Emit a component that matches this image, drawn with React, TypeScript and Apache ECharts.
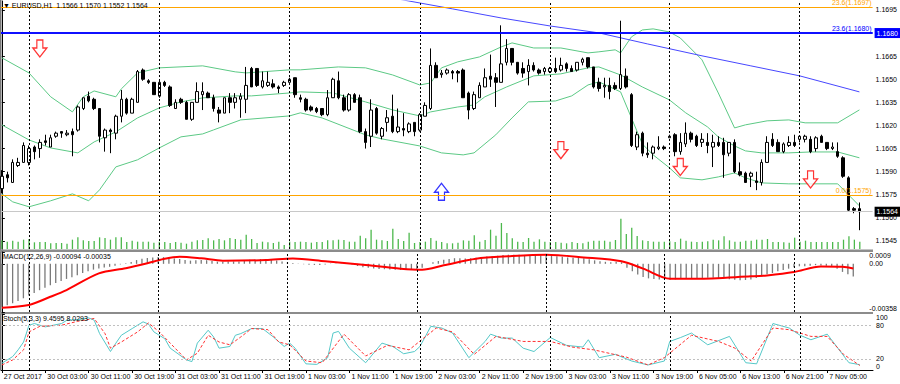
import React, { useEffect, useRef } from "react";
import * as echarts from "echarts";

const FONT = '"Liberation Sans", Arial, sans-serif';

// x = H1 candle index (0 = 27 Oct 2017 17:00)
const tickIndex = [0, 8, 16, 24, 32, 40, 48, 56, 64, 72, 80, 88, 96, 104, 112, 120, 128, 136, 144, 152];
const tickLabels = ["27 Oct 2017", "30 Oct 03:00", "30 Oct 11:00", "30 Oct 19:00", "31 Oct 03:00", "31 Oct 11:00", "31 Oct 19:00", "1 Nov 03:00", "1 Nov 11:00", "1 Nov 19:00", "2 Nov 03:00", "2 Nov 11:00", "2 Nov 19:00", "3 Nov 03:00", "3 Nov 11:00", "3 Nov 19:00", "6 Nov 05:00", "6 Nov 13:00", "6 Nov 21:00", "7 Nov 05:00"];
const daySeparators = [5, 29, 53, 77, 101, 123, 147];
const priceTicks = [1.1545, 1.156, 1.1575, 1.159, 1.1605, 1.162, 1.1635, 1.165, 1.1665, 1.168, 1.1695];
const priceLabels = [1.1545, 1.156, 1.1575, 1.159, 1.1605, 1.162, 1.1635, 1.165, 1.1665, 1.1695];

const opens = [
  1.1579, 1.1588, 1.1583, 1.1594, 1.1596, 1.1596, 1.1606, 1.1605, 1.1610, 1.1606,
  1.1613, 1.1616, 1.1614, 1.1616, 1.1617, 1.1631, 1.1639, 1.1637, 1.1631, 1.1612,
  1.1617, 1.1615, 1.1626, 1.1637, 1.1628, 1.1635, 1.1656, 1.1649, 1.1648, 1.1639,
  1.1648, 1.1645, 1.1631, 1.1637, 1.1635, 1.1624, 1.1635, 1.1640, 1.1641, 1.1638,
  1.1630, 1.1628, 1.1638, 1.1635, 1.1637, 1.1637, 1.1657, 1.1657, 1.1645, 1.1646,
  1.1647, 1.1645, 1.1646, 1.1648, 1.1651, 1.1638, 1.1637, 1.1632, 1.1631, 1.1631,
  1.1627, 1.1638, 1.1649, 1.1638, 1.1630, 1.1640, 1.1638, 1.1616, 1.1613, 1.1631,
  1.1613, 1.1622, 1.1626, 1.1616, 1.1618, 1.1616, 1.1622, 1.1617, 1.1626, 1.1631,
  1.1659, 1.1653, 1.1654, 1.1655, 1.1655, 1.1656, 1.1641, 1.1631, 1.1638, 1.1645,
  1.1652, 1.1651, 1.1648, 1.1661, 1.1670, 1.1661, 1.1657, 1.1655, 1.1659, 1.1656,
  1.1655, 1.1655, 1.1657, 1.1656, 1.1660, 1.1657, 1.1656, 1.1661, 1.1664, 1.1658,
  1.1648, 1.1645, 1.1646, 1.1646, 1.1644, 1.1652, 1.1640, 1.1606, 1.1615, 1.1602,
  1.1602, 1.1605, 1.1606, 1.1612, 1.1614, 1.1603, 1.1608, 1.1615, 1.1613, 1.1609,
  1.1609, 1.1606, 1.1609, 1.1609, 1.1602, 1.1609, 1.1590, 1.1589, 1.1587, 1.1584,
  1.1583, 1.1596, 1.1611, 1.1609, 1.1603, 1.1607, 1.1609, 1.1611, 1.1611, 1.1611,
  1.1605, 1.1613, 1.1609, 1.1605, 1.1603, 1.1599, 1.1586, 1.1566, 1.1566,
];
const closes = [
  1.1587, 1.1586, 1.1596, 1.1596, 1.1607, 1.1605, 1.1603, 1.1609, 1.1609, 1.1612,
  1.1615, 1.1615, 1.1615, 1.1614, 1.1632, 1.1638, 1.1636, 1.1631, 1.1613, 1.1617,
  1.1616, 1.1626, 1.1637, 1.1628, 1.1637, 1.1655, 1.1650, 1.1648, 1.1640, 1.1648,
  1.1646, 1.1633, 1.1635, 1.1635, 1.1624, 1.1635, 1.1642, 1.1642, 1.1638, 1.1631,
  1.1628, 1.1638, 1.1635, 1.1638, 1.1639, 1.1646, 1.1645, 1.1646, 1.1649, 1.1648,
  1.1645, 1.1644, 1.1648, 1.1650, 1.1640, 1.1637, 1.1630, 1.1630, 1.1629, 1.1627,
  1.1638, 1.1650, 1.1638, 1.1630, 1.1640, 1.1635, 1.1616, 1.1609, 1.1630, 1.1615,
  1.1618, 1.1625, 1.1616, 1.1619, 1.1617, 1.1621, 1.1616, 1.1627, 1.1633, 1.1659,
  1.1651, 1.1654, 1.1656, 1.1654, 1.1654, 1.1638, 1.1630, 1.1640, 1.1646, 1.1651,
  1.1650, 1.1648, 1.1660, 1.1670, 1.1661, 1.1654, 1.1654, 1.1659, 1.1656, 1.1654,
  1.1657, 1.1657, 1.1655, 1.1659, 1.1657, 1.1655, 1.1661, 1.1663, 1.1658, 1.1645,
  1.1644, 1.1646, 1.1642, 1.1644, 1.1653, 1.1645, 1.1607, 1.1614, 1.1602, 1.1601,
  1.1606, 1.1606, 1.1605, 1.1613, 1.1603, 1.1609, 1.1615, 1.1611, 1.1607, 1.1611,
  1.1607, 1.1609, 1.1607, 1.1601, 1.1609, 1.1590, 1.1588, 1.1583, 1.1589, 1.1583,
  1.1596, 1.1609, 1.1607, 1.1603, 1.1608, 1.1609, 1.1607, 1.1613, 1.1613, 1.1603,
  1.1612, 1.1609, 1.1605, 1.1606, 1.1600, 1.1587, 1.1565, 1.1565, 1.1564,
];
const lows = [
  1.1576, 1.1583, 1.1583, 1.1593, 1.1596, 1.1594, 1.1598, 1.1599, 1.1607, 1.1606,
  1.1612, 1.1612, 1.1613, 1.1600, 1.1616, 1.1630, 1.1635, 1.1630, 1.1609, 1.1603,
  1.1602, 1.1611, 1.1622, 1.1627, 1.1628, 1.1635, 1.1649, 1.1647, 1.1640, 1.1638,
  1.1645, 1.1632, 1.1631, 1.1634, 1.1624, 1.1623, 1.1635, 1.1630, 1.1638, 1.1629,
  1.1622, 1.1628, 1.1628, 1.1631, 1.1625, 1.1628, 1.1645, 1.1645, 1.1644, 1.1645,
  1.1644, 1.1641, 1.1645, 1.1648, 1.1638, 1.1635, 1.1629, 1.1629, 1.1628, 1.1626,
  1.1626, 1.1638, 1.1637, 1.1629, 1.1629, 1.1635, 1.1615, 1.1605, 1.1606, 1.1614,
  1.1611, 1.1616, 1.1615, 1.1615, 1.1613, 1.1615, 1.1613, 1.1616, 1.1626, 1.1630,
  1.1651, 1.1651, 1.1653, 1.1650, 1.1648, 1.1638, 1.1624, 1.1630, 1.1638, 1.1645,
  1.1645, 1.1632, 1.1648, 1.1659, 1.1659, 1.1653, 1.1651, 1.1646, 1.1655, 1.1653,
  1.1653, 1.1654, 1.1654, 1.1655, 1.1655, 1.1655, 1.1655, 1.1659, 1.1657, 1.1644,
  1.1642, 1.1638, 1.1637, 1.1643, 1.1643, 1.1644, 1.1606, 1.1604, 1.1600, 1.1599,
  1.1598, 1.1604, 1.1604, 1.1612, 1.1600, 1.1601, 1.1606, 1.1609, 1.1606, 1.1606,
  1.1602, 1.1593, 1.1606, 1.1586, 1.1600, 1.1589, 1.1587, 1.1583, 1.1580, 1.1578,
  1.1581, 1.1596, 1.1606, 1.1603, 1.1602, 1.1606, 1.1606, 1.1609, 1.1609, 1.1602,
  1.1603, 1.1609, 1.1604, 1.1604, 1.1599, 1.1586, 1.1564, 1.1563, 1.1552,
];
const highs = [
  1.1591, 1.1590, 1.1598, 1.1599, 1.1609, 1.1607, 1.1607, 1.1611, 1.1614, 1.1614,
  1.1616, 1.1616, 1.1617, 1.1618, 1.1633, 1.1638, 1.1642, 1.1638, 1.1631, 1.1618,
  1.1618, 1.1627, 1.1643, 1.1638, 1.1638, 1.1656, 1.1657, 1.1650, 1.1648, 1.1650,
  1.1649, 1.1646, 1.1637, 1.1638, 1.1636, 1.1635, 1.1648, 1.1648, 1.1642, 1.1640,
  1.1632, 1.1638, 1.1641, 1.1641, 1.1641, 1.1658, 1.1658, 1.1657, 1.1655, 1.1655,
  1.1650, 1.1646, 1.1649, 1.1651, 1.1651, 1.1640, 1.1638, 1.1633, 1.1632, 1.1631,
  1.1643, 1.1651, 1.1655, 1.1640, 1.1641, 1.1641, 1.1640, 1.1618, 1.1637, 1.1632,
  1.1619, 1.1630, 1.1640, 1.1631, 1.1628, 1.1622, 1.1622, 1.1628, 1.1635, 1.1670,
  1.1661, 1.1656, 1.1657, 1.1656, 1.1656, 1.1657, 1.1642, 1.1642, 1.1648, 1.1657,
  1.1666, 1.1654, 1.1685, 1.1676, 1.1670, 1.1661, 1.1661, 1.1663, 1.1661, 1.1657,
  1.1658, 1.1658, 1.1664, 1.1664, 1.1661, 1.1659, 1.1661, 1.1664, 1.1664, 1.1658,
  1.1651, 1.1651, 1.1651, 1.1648, 1.1688, 1.1657, 1.1641, 1.1616, 1.1616, 1.1609,
  1.1607, 1.1613, 1.1607, 1.1614, 1.1615, 1.1615, 1.1622, 1.1616, 1.1614, 1.1615,
  1.1615, 1.1614, 1.1613, 1.1612, 1.1609, 1.1611, 1.1596, 1.1590, 1.1590, 1.1590,
  1.1598, 1.1613, 1.1615, 1.1611, 1.1609, 1.1613, 1.1614, 1.1613, 1.1614, 1.1613,
  1.1613, 1.1614, 1.1609, 1.1609, 1.1609, 1.1600, 1.1587, 1.1567, 1.1570,
];
const volumes = [
  1040, 880, 1000, 880, 1120, 1200, 800, 840, 840, 680,
  720, 720, 640, 1120, 1400, 1040, 960, 960, 1400, 1320,
  1120, 1400, 1400, 840, 1000, 880, 880, 880, 760, 880,
  840, 720, 840, 760, 640, 880, 1040, 1080, 1280, 1040,
  1200, 1040, 1320, 1200, 1120, 1720, 1200, 720, 880, 800,
  720, 880, 480, 880, 840, 880, 840, 760, 840, 840,
  1040, 1040, 1120, 1080, 880, 880, 1600, 1280, 2320, 1120,
  1040, 960, 2440, 1200, 960, 1960, 720, 840, 880, 1320,
  1000, 840, 680, 680, 760, 1040, 1000, 1640, 880, 1080,
  2320, 1600, 3120, 1920, 1280, 880, 840, 1320, 880, 1160,
  880, 840, 840, 760, 680, 840, 720, 680, 880, 1000,
  1000, 1000, 880, 1080, 3640, 1800, 2560, 1560, 1040, 960,
  880, 880, 880, 920, 840, 1240, 1000, 880, 840, 880,
  920, 1120, 1040, 1520, 1040, 880, 880, 1000, 1000, 1120,
  1120, 1200, 840, 840, 800, 760, 1360, 880, 1000, 840,
  840, 840, 840, 840, 840, 1120, 1520, 1120, 880,
];

// Bollinger Bands (20,2) read at sample candles: [index, price]
const bbUpper = [
  [0, 1.16639], [5, 1.16541], [9, 1.16386], [13, 1.16288], [15, 1.16386], [17, 1.16424], [21, 1.16386], [22, 1.16437],
  [25, 1.16541], [29, 1.16574], [37, 1.16587], [43, 1.16548], [45, 1.16541], [53, 1.16561], [55, 1.16561], [62, 1.1658],
  [67, 1.16574], [72, 1.16528], [77, 1.16463], [79, 1.16476], [81, 1.16574], [84, 1.16613], [88, 1.16645], [92, 1.1671],
  [94, 1.16736], [98, 1.16703], [103, 1.16703], [108, 1.16671], [110, 1.16678], [113, 1.16691], [114, 1.16671],
  [116, 1.16775], [118, 1.1682], [120, 1.16827], [123, 1.16807], [125, 1.16768], [129, 1.16626], [132, 1.16411],
  [135, 1.16184], [137, 1.16204], [141, 1.1623], [145, 1.16236], [148, 1.16217], [154, 1.16217], [158, 1.16301],
];
const bbMiddle = [
  [0, 1.16204], [5, 1.16106], [9, 1.16054], [14, 1.16022], [17, 1.16093], [21, 1.16158], [25, 1.16249], [29, 1.16314],
  [33, 1.16353], [37, 1.16379], [43, 1.16392], [46, 1.16392], [53, 1.16411], [55, 1.16418], [61, 1.16411], [67, 1.16353],
  [72, 1.16301], [77, 1.16262], [79, 1.16288], [84, 1.1632], [87, 1.16333], [89, 1.16386], [93, 1.1645], [98, 1.16522],
  [103, 1.16535], [108, 1.16574], [110, 1.1658], [114, 1.16528], [118, 1.1645], [123, 1.16366], [126, 1.16282],
  [130, 1.16191], [132, 1.16126], [135, 1.16067], [137, 1.16035], [140, 1.16022], [145, 1.16022], [149, 1.16028],
  [154, 1.16028], [158, 1.1599],
];
const bbLower = [
  [0, 1.15756], [2, 1.15704], [5, 1.15672], [9, 1.15711], [13, 1.15756], [16, 1.15711], [18, 1.15782], [21, 1.15931],
  [25, 1.15977], [29, 1.16054], [33, 1.16126], [37, 1.16145], [39, 1.16171], [44, 1.16236], [53, 1.16262], [55, 1.16282],
  [59, 1.16249], [67, 1.16139], [70, 1.16113], [77, 1.16067], [81, 1.16022], [85, 1.16009], [87, 1.16022], [91, 1.16139],
  [94, 1.16249], [97, 1.16353], [102, 1.16359], [105, 1.16392], [108, 1.16463], [110, 1.16483], [114, 1.16418],
  [118, 1.1608], [120, 1.16009], [123, 1.15925], [125, 1.1586], [129, 1.15847], [132, 1.15866], [135, 1.15892],
  [137, 1.1586], [140, 1.15827], [145, 1.15821], [149, 1.15821], [154, 1.15821], [158, 1.15678],
];
const maLine = [
  [70, 1.1704], [75, 1.17008], [83, 1.16957], [92, 1.16898], [101, 1.16846], [110, 1.16801], [119, 1.16729],
  [129, 1.16652], [138, 1.16587], [147, 1.16522], [158, 1.16418],
];
const arrowsDown = [[7, 1.167], [103, 1.1604], [125, 1.1593], [149, 1.1585]];
const arrowsUp = [[81, 1.1577]];

const macdMain = [
  -0.00319, -0.00308, -0.00293, -0.00276, -0.00256, -0.00236, -0.00216, -0.00196, -0.00178, -0.0016,
  -0.00143, -0.00127, -0.00112, -0.00099, -0.00084, -0.00068, -0.00055, -0.00043, -0.00035, -0.00028,
  -0.00022, -0.00014, -0.00004, 0.00005, 0.00014, 0.00028, 0.00038, 0.00044, 0.00047, 0.0005,
  0.0005, 0.00046, 0.0004, 0.00036, 0.00028, 0.00024, 0.00026, 0.00028, 0.00027, 0.00022,
  0.00016, 0.00016, 0.00017, 0.00018, 0.00018, 0.00024, 0.0003, 0.00033, 0.00035, 0.00034,
  0.0003, 0.00024, 0.00018, 0.00012, 0.00006, 0.00002, -0.00003, -0.00006, -0.00008, -0.00008,
  -0.00004, 0.00002, 0.00002, -0.00002, -0.00002, -0.00005, -0.00016, -0.00026, -0.0003, -0.00035,
  -0.00038, -0.0004, -0.00042, -0.00044, -0.00045, -0.00046, -0.00045, -0.0004, -0.0003, 0.0,
  0.00012, 0.00022, 0.0003, 0.00036, 0.00042, 0.00042, 0.0004, 0.00042, 0.00046, 0.0005,
  0.00054, 0.00056, 0.0006, 0.00066, 0.00068, 0.00068, 0.00067, 0.00066, 0.00066, 0.00065,
  0.00064, 0.00064, 0.0006, 0.00056, 0.00052, 0.00048, 0.00045, 0.00044, 0.00042, 0.00034,
  0.00026, 0.0002, 0.00015, 0.00012, 0.00016, 0.00012, -0.0003, -0.00055, -0.0008, -0.00098,
  -0.00108, -0.00112, -0.00116, -0.00114, -0.00118, -0.00116, -0.00112, -0.0011, -0.00108, -0.00106,
  -0.00105, -0.00104, -0.00104, -0.00108, -0.00106, -0.00114, -0.00118, -0.00122, -0.0012, -0.00116,
  -0.00106, -0.00092, -0.00078, -0.00068, -0.00056, -0.00046, -0.00036, -0.00026, -0.00018, -0.00018,
  -0.00014, -0.0001, -0.00012, -0.00015, -0.0002, -0.00036, -0.0006, -0.00078, -0.00094,
];
const macdSignal = [
  [0, -0.00326], [5, -0.00306], [9, -0.00245], [12, -0.00195], [18, -0.00071], [23, -0.00033], [27, 0.00004],
  [30, 0.00036], [33, 0.00053], [37, 0.00041], [41, 0.00023], [49, 0.00028], [54, 0.0004], [60, 0.00019],
  [67, -0.00007], [74, -0.00036], [78, -0.00044], [82, -0.00011], [88, 0.00038], [94, 0.00056], [101, 0.00068],
  [108, 0.00048], [115, 0.00019], [119, -0.00036], [124, -0.00111], [129, -0.00111], [139, -0.00093],
  [142, -0.00086], [147, -0.00061], [152, -0.00019], [156, -0.00022], [158, -0.00035],
];
const stochMain = [
  [0, 12], [2, 24], [3, 36], [4, 50], [5, 80], [6, 83], [8, 77], [11, 83], [12, 89], [14, 90], [16, 93], [17, 89],
  [18, 65], [20, 33], [21, 48], [22, 62], [24, 74], [26, 86], [27, 82], [28, 68], [30, 56], [31, 39], [34, 18],
  [35, 15], [36, 48], [38, 71], [39, 59], [40, 39], [42, 42], [43, 62], [44, 65], [46, 74], [48, 74], [50, 59],
  [52, 42], [53, 48], [54, 39], [56, 11], [58, 10], [60, 22], [61, 66], [62, 69], [64, 39], [67, 13], [70, 48],
  [72, 42], [74, 29], [76, 33], [77, 42], [79, 78], [81, 75], [83, 66], [86, 22], [89, 51], [90, 64], [92, 57],
  [94, 57], [96, 39], [98, 33], [101, 58], [104, 44], [107, 41], [108, 54], [110, 22], [113, 28], [116, 16],
  [119, 9], [122, 16], [123, 51], [125, 58], [127, 66], [130, 45], [134, 60], [137, 13], [139, 11], [142, 83],
  [145, 75], [147, 62], [149, 54], [152, 64], [156, 13], [158, 9.4595],
];
const stochSignal = [
  [0, 9], [2, 18], [4, 36], [5, 68], [7, 78], [11, 80], [14, 87], [17, 92], [19, 65], [20, 39], [22, 50], [25, 68],
  [27, 84], [29, 68], [31, 48], [34, 18], [36, 30], [38, 62], [40, 50], [42, 45], [44, 59], [46, 74], [49, 72],
  [51, 50], [53, 45], [56, 16], [59, 13], [63, 64], [67, 25], [71, 44], [75, 36], [80, 75], [83, 68], [87, 28],
  [91, 60], [96, 51], [101, 51], [105, 41], [109, 36], [115, 23], [119, 9], [122, 22], [127, 62], [132, 51],
  [135, 39], [138, 16], [142, 75], [145, 72], [149, 60], [152, 60], [155, 28], [158, 8.0293],
];

const X_MIN = -0.157;
const X_MAX = 160.43;
const DOWN = "path://M4,0 L10,0 L10,8 L14,8 L7,17 L0,8 L4,8 Z";
const UP = "path://M4,17 L10,17 L10,9 L14,9 L7,0 L0,9 L4,9 Z";

export default function App() {
  const ref = useRef<HTMLDivElement>(null);
  useEffect(() => {
    const chart = echarts.init(ref.current!, null, { renderer: "svg" });
    const txt = { fontSize: 7, color: "#000", fontFamily: FONT };
    const sepLines = daySeparators.map((d) => ({ xAxis: d }));
    const sepStyle = { color: "#000", width: 1, type: [2, 2] as any };
    const grids = [
      { left: 1, right: 27, top: 1, height: 248 },
      { left: 1, right: 27, top: 201, height: 48 },
      { left: 1, right: 27, top: 252, height: 60 },
      { left: 1, right: 27, top: 314, height: 56 },
    ];
    const xAxes = grids.map((_, i) => ({
      type: "value",
      gridIndex: i,
      min: X_MIN,
      max: X_MAX,
      axisLine: { show: i === 3, lineStyle: { color: "#000" } },
      axisTick: { show: i === 3, customValues: tickIndex, length: 3, lineStyle: { color: "#000" } },
      axisLabel: {
        show: i === 3,
        customValues: tickIndex,
        formatter: (v: number) => tickLabels[tickIndex.indexOf(Math.round(v))] ?? "",
        align: "left",
        margin: 3,
        padding: [0, 0, 0, 2],
        ...txt,
      },
      splitLine: { show: false },
    }));
    const boxLabel = (text: string, bg: string) => ({
      show: true, position: "end", distance: 2, formatter: text, backgroundColor: bg,
      color: "#ffffff", fontSize: 7, fontFamily: FONT, padding: [2, 2, 1, 2],
    });
    const option: any = {
      animation: false,
      backgroundColor: "#ffffff",
      textStyle: { fontFamily: FONT },
      title: [
        { text: "▼ EURUSD,H1  1.1566 1.1570 1.1552 1.1564", left: 3, top: 2, padding: 0, textStyle: { ...txt, fontWeight: "normal" } },
        { text: "MACD(12,26,9) -0.00094 -0.00035", left: 3, top: 253, padding: 0, textStyle: { ...txt, fontWeight: "normal" } },
        { text: "Stoch(5,3,3) 9.4595 8.0293", left: 3, top: 315, padding: 0, textStyle: { ...txt, fontWeight: "normal" } },
      ],
      grid: grids,
      xAxis: xAxes,
      yAxis: [
        {
          type: "value", gridIndex: 0, position: "right", min: 1.15398, max: 1.17008,
          axisLine: { show: true, lineStyle: { color: "#000" } },
          axisTick: { show: true, length: 3, customValues: priceTicks, lineStyle: { color: "#000" } },
          axisLabel: { customValues: priceLabels, formatter: (v: number) => v.toFixed(4), margin: 3, ...txt },
          splitLine: { show: false },
        },
        { type: "value", gridIndex: 1, min: 0, max: 5760, show: false },
        {
          type: "value", gridIndex: 2, position: "right", min: -0.00358, max: 0.00088,
          axisLine: { show: true, lineStyle: { color: "#000" } },
          axisTick: { show: true, length: 3, customValues: [-0.00358, 0, 0.00088], lineStyle: { color: "#000" } },
          axisLabel: {
            customValues: [-0.00358, 0, 0.00088],
            formatter: (v: number) => (v > 0.0001 ? "0.0009" : v < -0.0001 ? "-0.00358" : "0.00"),
            verticalAlignMinLabel: "bottom", verticalAlignMaxLabel: "top",
            margin: 3, ...txt,
          },
          splitLine: { show: false },
        },
        {
          type: "value", gridIndex: 3, position: "right", min: 0, max: 100,
          axisLine: { show: true, lineStyle: { color: "#000" } },
          axisTick: { show: true, length: 3, customValues: [0, 20, 80, 100], lineStyle: { color: "#000" } },
          axisLabel: {
            customValues: [0, 20, 80, 100],
            verticalAlignMinLabel: "bottom", verticalAlignMaxLabel: "top",
            margin: 3, ...txt,
          },
          splitLine: { show: false },
        },
      ],
      graphic: [
        { type: "rect", shape: { x: 0, y: 0, width: 1.5, height: 370 }, style: { fill: "#777" }, silent: true },
        { type: "rect", shape: { x: 0, y: 249.5, width: 873, height: 2.5 }, style: { fill: "#8c8c8c" }, silent: true },
        { type: "rect", shape: { x: 0, y: 312, width: 873, height: 2 }, style: { fill: "#8c8c8c" }, silent: true },
      ],
      series: [
        {
          type: "bar", name: "Volumes", xAxisIndex: 1, yAxisIndex: 1, z: 1,
          data: volumes.map((v, i) => [i, v]), barWidth: 1.3,
          itemStyle: { color: "#4cb84c" },
        },
        {
          type: "line", name: "BB upper", xAxisIndex: 0, yAxisIndex: 0, z: 2, data: bbUpper, showSymbol: false,
          lineStyle: { color: "#5cc985", width: 1 },
        },
        {
          type: "line", name: "BB middle", xAxisIndex: 0, yAxisIndex: 0, z: 2, data: bbMiddle, showSymbol: false,
          lineStyle: { color: "#5cc985", width: 1 },
          markLine: {
            silent: true, symbol: "none", animation: false, precision: 6,
            data: [
              ...sepLines.map((s) => ({ ...s, lineStyle: sepStyle, label: { show: false } })),
              { yAxis: 1.1697, lineStyle: { color: "#ffa500", width: 1, type: "solid" }, label: { show: true, position: "insideEndTop", formatter: "23.6(1.1697)", color: "#ffa500", fontSize: 7, distance: 1 } },
              { yAxis: 1.168, lineStyle: { color: "#0000ff", width: 1.6, type: "solid" }, label: { show: true, position: "insideEndTop", formatter: "23.6(1.1680)", color: "#0000ff", fontSize: 7, distance: 1 } },
              { yAxis: 1.1575, lineStyle: { color: "#ffa500", width: 1, type: "solid" }, label: { show: true, position: "insideEndTop", formatter: "0.0(1.1575)", color: "#ffa500", fontSize: 7, distance: 1 } },
            ],
          },
        },
        {
          type: "line", name: "BB lower", xAxisIndex: 0, yAxisIndex: 0, z: 2, data: bbLower, showSymbol: false,
          lineStyle: { color: "#5cc985", width: 1 },
          markLine: {
            silent: true, symbol: "none", animation: false, precision: 6,
            data: [
              { yAxis: 1.1564, lineStyle: { color: "#c8c8c8", width: 1, type: "solid" }, label: boxLabel("1.1564", "#000000") },
            ],
          },
        },
        {
          type: "line", name: "MA", xAxisIndex: 0, yAxisIndex: 0, z: 2, data: maLine, showSymbol: false,
          lineStyle: { color: "#4747ff", width: 1 },
          markLine: {
            silent: true, symbol: "none", animation: false, precision: 6,
            data: [
              { yAxis: 1.168, lineStyle: { color: "#0000ff", width: 1.6, type: "solid" }, label: boxLabel("1.1680", "#0000ff") },
            ],
          },
        },
        {
          type: "candlestick", name: "EURUSD,H1", xAxisIndex: 0, yAxisIndex: 0, z: 3,
          data: opens.map((o, i) => [i, o, closes[i], lows[i], highs[i]]),
          encode: { x: 0, y: [1, 2, 3, 4] },
          barWidth: 3,
          itemStyle: { color: "#ffffff", color0: "#000000", borderColor: "#000000", borderColor0: "#000000", borderWidth: 1 },
        },
        {
          type: "scatter", xAxisIndex: 0, yAxisIndex: 0, z: 4, data: arrowsDown, symbol: DOWN, symbolSize: [14, 17],
          itemStyle: { color: "#ffffff", borderColor: "#ff0000", borderWidth: 1.3 },
        },
        {
          type: "scatter", xAxisIndex: 0, yAxisIndex: 0, z: 4, data: arrowsUp, symbol: UP, symbolSize: [14, 17],
          itemStyle: { color: "#ffffff", borderColor: "#0000ff", borderWidth: 1.3 },
        },
        {
          type: "bar", name: "MACD", xAxisIndex: 2, yAxisIndex: 2, z: 2,
          data: macdMain.map((v, i) => [i, v]), barWidth: 1.3,
          itemStyle: { color: "#7a7a7a" },
          markLine: { silent: true, symbol: "none", animation: false, lineStyle: sepStyle, label: { show: false }, data: sepLines },
        },
        {
          type: "line", name: "Signal", xAxisIndex: 2, yAxisIndex: 2, z: 3, data: macdSignal, showSymbol: false, smooth: 0.3,
          lineStyle: { color: "#ff0000", width: 2 },
        },
        {
          type: "line", name: "Stoch main", xAxisIndex: 3, yAxisIndex: 3, z: 3, data: stochMain, showSymbol: false,
          lineStyle: { color: "#55c8c8", width: 1 },
          markLine: {
            silent: true, symbol: "none", animation: false, label: { show: false },
            data: [
              ...sepLines.map((s) => ({ ...s, lineStyle: sepStyle })),
              { yAxis: 80, lineStyle: { color: "#c0c0c0", width: 1, type: [2, 2] } },
              { yAxis: 20, lineStyle: { color: "#c0c0c0", width: 1, type: [2, 2] } },
            ],
          },
        },
        {
          type: "line", name: "Stoch signal", xAxisIndex: 3, yAxisIndex: 3, z: 3, data: stochSignal, showSymbol: false,
          lineStyle: { color: "#ff3030", width: 1, type: [3, 2] },
        },
      ],
    };
    chart.setOption(option);
    return () => chart.dispose();
  }, []);
  return (
    <div
      ref={ref}
      style={{ position: "fixed", left: 0, top: 0, width: 900, height: 384, background: "#ffffff" }}
    />
  );
}
